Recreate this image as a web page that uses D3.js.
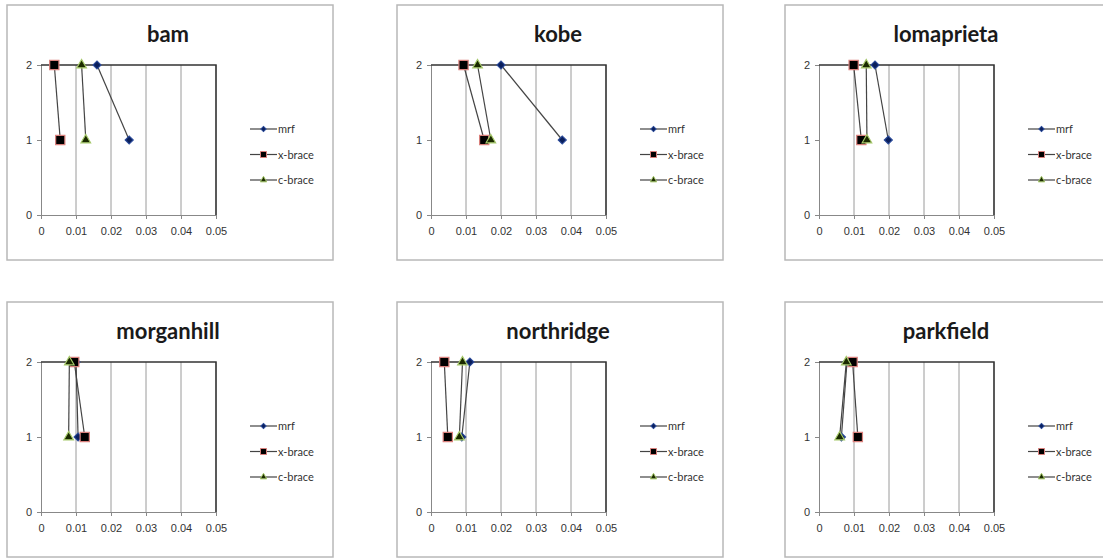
<!DOCTYPE html>
<html>
<head>
<meta charset="utf-8">
<script src="https://cdn.jsdelivr.net/npm/d3@7"></script>
<style>
  body { margin: 0; background: #fff; }
  svg { display: block; font-family: Lato, "Open Sans", sans-serif; }
</style>
</head>
<body>
<svg id="chart" width="1103" height="558"></svg>
<script>
// one panel per earthquake record, drift per story
var quakes = ["bam", "kobe", "lomaprieta", "morganhill", "northridge", "parkfield"];
var stories = [1, 2];
var seriesNames = ["mrf", "x-brace", "c-brace"];
// values at story 1, story 2
var mrf    = [[0.0252, 0.0160], [0.0375, 0.0200], [0.0198, 0.0160], [0.0106, 0.0100], [0.0088, 0.0111], [0.0064, 0.0080]];
var xBrace = [[0.0055, 0.0038], [0.0152, 0.0093], [0.0121, 0.0099], [0.0125, 0.0095], [0.0048, 0.0038], [0.0111, 0.0096]];
var cBrace = [[0.0128, 0.0116], [0.0171, 0.0133], [0.0137, 0.0135], [0.0079, 0.0081], [0.0081, 0.0090], [0.0059, 0.0078]];
var xTicks = [0, 0.01, 0.02, 0.03, 0.04, 0.05];
var yTicks = [0, 1, 2];

var svg = d3.select('#chart');
var boxW = 326, boxH = 255;
var origins = [[7, 5], [397, 5], [785, 5], [7, 302], [397, 302], [785, 302]];
var plot = { left: 34, top: 60, width: 175, height: 150 };

var x = d3.scaleLinear().domain([0, 0.05]).range([0, plot.width]);
var y = d3.scaleLinear().domain([0, 2]).range([plot.height, 0]);

// diamond = square turned 45deg, like excel's marker
var styles = [
	{ sym: d3.symbolSquare, rot: 45, size: 32, fill: '#0a1f5c', stroke: '#2a4a9a', legSize: 14 },
	{ sym: d3.symbolSquare, rot: 0, size: 85, fill: '#000', stroke: '#d9807c', legSize: 36 },
	{ sym: d3.symbolTriangle, rot: 0, size: 40, fill: '#1a2a00', stroke: '#a6c96a', legSize: 18 }
];

quakes.forEach(function(q, qi) {
	var o = origins[qi];
	var g = svg.append('g').attr('transform', 'translate(' + o[0] + ',' + o[1] + ')');

	g.append('rect')
		.attr('x', 0).attr('y', 0)
		.attr('width', boxW).attr('height', boxH)
		.attr('fill', '#fff')
		.attr('stroke', '#b8b8b8')
		.attr('stroke-width', 1.5);

	g.append('text')
		.attr('x', 161).attr('y', 37)
		.attr('text-anchor', 'middle')
		.attr('font-size', 22)
		.attr('font-weight', 'bold')
		.attr('fill', '#1a1a1a')
		.text(q);

	var p = g.append('g').attr('transform', 'translate(' + plot.left + ',' + plot.top + ')');

	// vertical gridlines
	p.selectAll('.grid').data(xTicks.slice(1))
		.enter().append('line')
		.attr('x1', function(d){ return x(d); }).attr('x2', function(d){ return x(d); })
		.attr('y1', 0).attr('y2', plot.height)
		.attr('stroke', '#9a9a9a').attr('stroke-width', 1);

	var xAxis = p.append('g')
		.attr('transform', 'translate(0,' + plot.height + ')')
		.call(d3.axisBottom(x).tickValues(xTicks).tickSize(4).tickPadding(8)
			.tickFormat(function(d){ return d === 0 ? '0' : d3.format('.2f')(d); }));
	var yAxis = p.append('g')
		.call(d3.axisLeft(y).tickValues(yTicks).tickSize(4).tickPadding(5).tickFormat(d3.format('d')));
	[xAxis, yAxis].forEach(function(a) {
		a.select('.domain').attr('stroke', '#888');
		a.selectAll('.tick line').attr('stroke', '#888');
		a.selectAll('.tick text').attr('fill', '#333').attr('font-size', 11);
	});

	// plot area border top and right
	p.append('path')
		.attr('d', 'M0,0H' + plot.width + 'V' + plot.height)
		.attr('fill', 'none').attr('stroke', '#333').attr('stroke-width', 1.5);

	var line = d3.line()
		.x(function(d){ return x(d.v); })
		.y(function(d){ return y(d.s); });

	[mrf, xBrace, cBrace].forEach(function(arr, si) {
		var pts = stories.map(function(s, k){ return { s: s, v: arr[qi][k] }; });
		var st = styles[si];
		p.append('path')
			.datum(pts)
			.attr('d', line)
			.attr('fill', 'none')
			.attr('stroke', '#444')
			.attr('stroke-width', 1.2);
		p.selectAll('.m' + si).data(pts)
			.enter().append('path')
			.attr('class', 'm' + si)
			.attr('d', d3.symbol().type(st.sym).size(st.size))
			.attr('transform', function(d){ return 'translate(' + x(d.v) + ',' + y(d.s) + ') rotate(' + st.rot + ')'; })
			.attr('fill', st.fill)
			.attr('stroke', st.stroke)
			.attr('stroke-width', 1.2);
	});

	// legend
	var leg = g.append('g').attr('transform', 'translate(243,124)');
	var rows = leg.selectAll('g').data(seriesNames)
		.enter().append('g')
		.attr('transform', function(d, i){ return 'translate(0,' + (i * 25.5) + ')'; });
	rows.append('line')
		.attr('x1', 0).attr('x2', 27).attr('y1', 0).attr('y2', 0)
		.attr('stroke', '#444').attr('stroke-width', 1.2);
	rows.append('path')
		.attr('d', function(d, i){ return d3.symbol().type(styles[i].sym).size(styles[i].legSize)(); })
		.attr('transform', function(d, i){ return 'translate(13.5,0) rotate(' + styles[i].rot + ')'; })
		.attr('fill', function(d, i){ return styles[i].fill; })
		.attr('stroke', function(d, i){ return styles[i].stroke; })
		.attr('stroke-width', 1);
	rows.append('text')
		.attr('x', 28).attr('y', 4)
		.attr('font-size', 11)
		.attr('fill', '#333')
		.text(function(d){ return d; });
});
</script>
</body>
</html>
